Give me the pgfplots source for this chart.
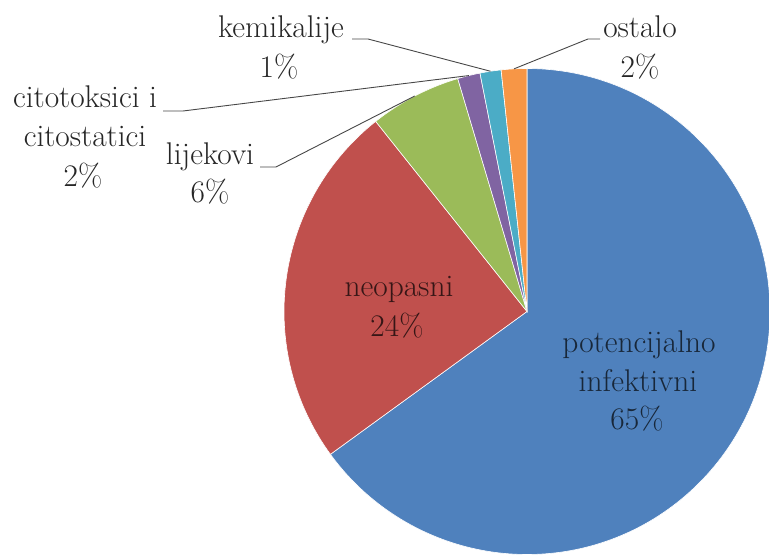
\documentclass[border=0pt]{standalone}
\usepackage{fontspec}
\usepackage{pgfplots}
\usepackage{pgfplotstable}
\pgfplotsset{compat=1.18}
\definecolor{c0}{HTML}{4F81BD}
\definecolor{c1}{HTML}{C0504D}
\definecolor{c2}{HTML}{9BBB59}
\definecolor{c3}{HTML}{8064A2}
\definecolor{c4}{HTML}{4BACC6}
\definecolor{c5}{HTML}{F79646}
\colorlet{outtxt}{black!85}
\colorlet{bluetxt}{c0!30!black}
\colorlet{redtxt}{c1!28!black}
\pgfplotstableread{
idx value
0 65.0
1 24.3
2 6.1
3 1.5
4 1.4
5 1.7
}\piedata
\tikzset{txt/.style={anchor=base, inner sep=0pt, font=\fontsize{31.5}{40}\selectfont\addfontfeatures{FakeBold=0.5}, text=outtxt}}
\newcommand\slice[2]{%
  \fill[#2, draw=white, line width=0.6pt] (axis cs:\cx,\cy) --
    (axis cs:{\cx+\R*cos(\csname ps#1\endcsname)},{\cy+\R*sin(\csname ps#1\endcsname)})
    arc[start angle=\csname ps#1\endcsname, end angle=\csname pe#1\endcsname, radius=\R bp] -- cycle;}
\newcommand\leader[4]{% slice idx, x of text end, x of elbow, y
  \draw[black!72, line width=0.9pt] (axis cs:#2,#4) -- (axis cs:#3,#4) --
    (axis cs:{\cx+\R*cos(\csname pm#1\endcsname)},{\cy+\R*sin(\csname pm#1\endcsname)});}
\begin{document}
\fontsize{31.5}{40}\selectfont
\begin{tikzpicture}
\def\cx{527}\def\cy{244.5}\def\R{243}
\gdef\cum{0}
\foreach \i in {0,...,5}{%
  \pgfplotstablegetelem{\i}{value}\of\piedata
  \pgfmathsetmacro\s{90-3.6*\cum}%
  \pgfmathsetmacro\newcum{\cum+\pgfplotsretval}%
  \pgfmathsetmacro\e{90-3.6*\newcum}%
  \pgfmathsetmacro\m{(\s+\e)/2}%
  \expandafter\xdef\csname ps\i\endcsname{\s}%
  \expandafter\xdef\csname pe\i\endcsname{\e}%
  \expandafter\xdef\csname pm\i\endcsname{\m}%
  \xdef\cum{\newcum}%
}
\begin{axis}[
  scale only axis, width=769bp, height=556bp,
  xmin=0, xmax=769, ymin=0, ymax=556,
  hide axis, clip=true,
]
\slice{0}{c0}
\slice{1}{c1}
\slice{2}{c2}
\slice{3}{c3}
\slice{4}{c4}
\slice{5}{c5}
% leader lines
\leader{4}{352}{368}{517}
\leader{5}{600}{588}{517}
\leader{3}{163}{183}{445}
\leader{2}{260}{276}{389}
% outside labels
\node[txt] at (axis cs:281,518) {kemikalije};
\node[txt] at (axis cs:279,478) {1\%};
\node[txt] at (axis cs:640,518) {ostalo};
\node[txt] at (axis cs:640,478) {2\%};
\node[txt] at (axis cs:85,448) {citotoksici i};
\node[txt] at (axis cs:85,409) {citostatici};
\node[txt] at (axis cs:83,369) {2\%};
\node[txt] at (axis cs:210,391) {lijekovi};
\node[txt] at (axis cs:210,353) {6\%};
% inside labels
\node[txt, text=redtxt] at (axis cs:399,259) {neopasni};
\node[txt, text=redtxt] at (axis cs:397,219) {24\%};
\node[txt, text=bluetxt] at (axis cs:639,203) {potencijalno};
\node[txt, text=bluetxt] at (axis cs:638,164) {infektivni};
\node[txt, text=bluetxt] at (axis cs:637,126) {65\%};
\end{axis}
\pgfresetboundingbox
\path (current axis.south west) rectangle (current axis.north east);
\end{tikzpicture}
\end{document}
